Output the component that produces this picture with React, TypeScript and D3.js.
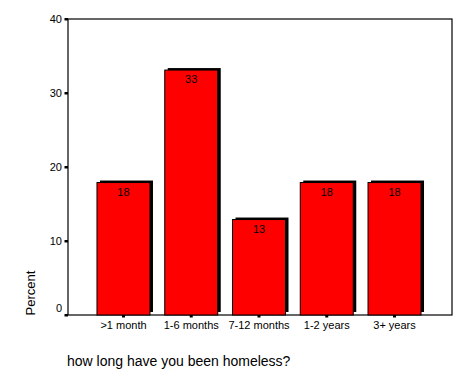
import React from "react";
import * as d3 from "d3";

const categories = [">1 month", "1-6 months", "7-12 months", "1-2 years", "3+ years"];
const percents = [17.9, 33.1, 12.9, 17.9, 17.9];
const valueLabels = ["18", "33", "13", "18", "18"];
const yTicks = [0, 10, 20, 30, 40];
const yTitle = "Percent";
const xTitle = "how long have you been homeless?";

export default function App() {
  const W = 472, H = 377;
  const left = 68, right = 452, top = 19, bottom = 315;
  const y = d3.scaleLinear().domain([0, 40]).range([bottom, top]);
  const x = d3.scalePoint<string>().domain(categories).range([89.6, 428.4]).padding(0.5);
  const bw = 53;
  const font = "'Liberation Sans', Arial, sans-serif";
  return (
    <svg width={W} height={H} style={{ position: "absolute", left: 0, top: 0, background: "#fff" }}>
      <rect x={0} y={0} width={W} height={H} fill="#fff" />
      {/* frame */}
      <rect x={left} y={top} width={right - left} height={bottom - top} fill="none" stroke="#000" strokeWidth={1.2} />
      {/* bars */}
      {categories.map((c, i) => {
        const cx = x(c)!;
        const yt = y(percents[i]);
        return (
          <g key={c}>
            <rect x={cx - bw / 2 + 3} y={yt - 2} width={bw} height={bottom - 3 - (yt - 2)} fill="#000" />
            <rect x={cx - bw / 2} y={yt} width={bw} height={bottom - yt} fill="#ff0000" stroke="#000" strokeWidth={1} />
            <text x={cx} y={yt + 13} textAnchor="middle" fontFamily={font} fontSize={11} fill="#000">{valueLabels[i]}</text>
            <rect x={cx - 1.5} y={bottom} width={3} height={2.5} fill="#000" />
            <text x={cx} y={bottom + 14} textAnchor="middle" fontFamily={font} fontSize={11} fill="#000">{c}</text>
          </g>
        );
      })}
      {/* y ticks */}
      {yTicks.map((t) => (
        <g key={t}>
          <rect x={left - 3.5} y={y(t) - 1} width={3.5} height={2.5} fill="#000" />
          <text x={left - 6} y={y(t) + (t === 0 ? -3 : 4)} textAnchor="end" fontFamily={font} fontSize={11} fill="#000">{t}</text>
        </g>
      ))}
      <text transform={`translate(35,${293}) rotate(-90)`} textAnchor="middle" fontFamily={font} fontSize={13} fill="#000">{yTitle}</text>
      <text x={67} y={366} fontFamily={font} fontSize={14} fill="#000">{xTitle}</text>
    </svg>
  );
}
